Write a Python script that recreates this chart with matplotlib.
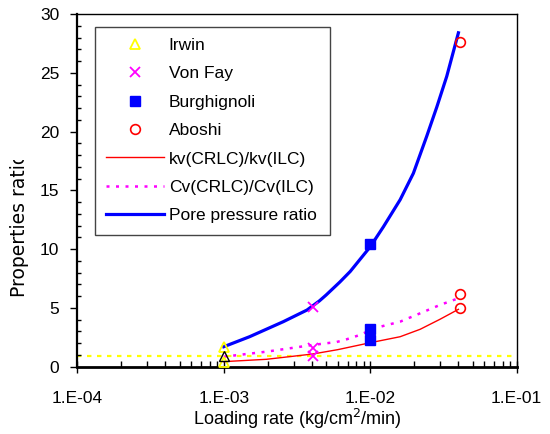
import numpy as np
import matplotlib
matplotlib.use('Agg')
import matplotlib.pyplot as plt
from matplotlib.ticker import FixedLocator, LogLocator, MultipleLocator, NullFormatter
from matplotlib.transforms import Bbox

plt.rcParams['font.family'] = ['Liberation Sans', 'DejaVu Sans']

# measured points
irwin_x = [1e-3, 1e-3]
irwin_y = [1.7, 0.43]
irwin_black_x = [1e-3]
irwin_black_y = [0.93]
vonfay_x = [4.05e-3, 4.05e-3, 4.05e-3]
vonfay_y = [5.1, 1.56, 0.93]
burg_x = [1e-2, 1e-2, 1e-2]
burg_y = [10.4, 3.2, 2.3]
aboshi_x = [4.1e-2, 4.1e-2, 4.1e-2]
aboshi_y = [27.6, 6.2, 4.97]

# fitted curves
kv_x = [1e-3, 1.96e-3, 4.05e-3, 6e-3, 1e-2, 1.6e-2, 2.19e-2, 2.99e-2, 4e-2]
kv_y = [0.43, 0.63, 1.08, 1.45, 2.04, 2.55, 3.18, 4.03, 4.88]
cv_x = [1e-3, 1.96e-3, 4.05e-3, 5.9e-3, 6.9e-3, 8.5e-3, 1e-2, 1.17e-2, 1.6e-2, 2.19e-2, 2.99e-2, 4e-2]
cv_y = [0.85, 1.28, 1.85, 2.1, 2.33, 2.7, 3.1, 3.4, 3.83, 4.54, 5.25, 5.82]
pore_x = [1e-3, 1.5e-3, 2.55e-3, 3.7e-3, 4.5e-3, 5.0e-3, 6.2e-3, 7.3e-3, 1e-2,
          1.23e-2, 1.6e-2, 1.97e-2, 2.43e-2, 2.85e-2, 3.33e-2, 4.0e-2]
pore_y = [1.7, 2.55, 3.83, 4.82, 5.6, 6.1, 7.2, 8.1, 10.2,
          11.9, 14.2, 16.45, 19.6, 22.1, 24.7, 28.4]
ref_level = 0.9

xticks = [1e-4, 1e-3, 1e-2, 1e-1]
xtick_labels = ['1.E-04', '1.E-03', '1.E-02', '1.E-01']
yticks = [0, 5, 10, 15, 20, 25, 30]

fig = plt.figure(figsize=(5.5, 4.34), dpi=100)
ax = fig.add_axes([77.3 / 550, 1 - 366.7 / 434, (516.7 - 77.3) / 550, (366.7 - 14) / 434])

ax.axhline(ref_level, color='#ffff00', lw=1.6, ls=(0, (2, 2.5)), zorder=1)
ax.plot(kv_x, kv_y, color='#ff0000', lw=1.0, label='kv(CRLC)/kv(ILC)', zorder=2)
ax.plot(cv_x, cv_y, color='#ff00ff', lw=1.8, ls=(0, (1.2, 2.6)), label='Cv(CRLC)/Cv(ILC)', zorder=2)
ax.plot(pore_x, pore_y, color='#0000ff', lw=2.3, label='Pore pressure ratio', zorder=2)

ax.plot(irwin_x, irwin_y, ls='none', marker='^', ms=7, mfc='none', mec='#ffff00', mew=1.3,
        label='Irwin', zorder=4)
ax.plot(irwin_black_x, irwin_black_y, ls='none', marker='^', ms=7, mfc='none', mec='black',
        mew=1.0, zorder=4)
ax.plot(vonfay_x, vonfay_y, ls='none', marker='x', ms=7, mec='#ff00ff', mew=1.3,
        label='Von Fay', zorder=4)
ax.plot(burg_x, burg_y, ls='none', marker='s', ms=7, mfc='#0000ff', mec='#0000ff',
        label='Burghignoli', zorder=3)
ax.plot(aboshi_x, aboshi_y, ls='none', marker='o', ms=7, mfc='none', mec='#ff0000', mew=1.2,
        label='Aboshi', zorder=4)

ax.set_xscale('log')
ax.set_xlim(1e-4, 1e-1)
ax.set_ylim(0, 30)
ax.xaxis.set_major_locator(FixedLocator(xticks))
ax.set_xticklabels(xtick_labels)
ax.xaxis.set_minor_locator(LogLocator(base=10, subs=np.arange(2, 10)))
ax.xaxis.set_minor_formatter(NullFormatter())
ax.set_yticks(yticks)
ax.yaxis.set_minor_locator(MultipleLocator(1))

ax.tick_params(axis='x', which='major', direction='inout', length=9, width=1.0,
               labelsize=12.5, pad=13)
ax.tick_params(axis='x', which='minor', direction='in', length=4, width=1.0)
ax.tick_params(axis='y', which='major', direction='out', length=5, width=1.0,
               labelsize=12.5, pad=8)
ax.tick_params(axis='y', which='minor', direction='in', length=3, width=1.0)

ax.spines['bottom'].set_linewidth(2.0)
ax.spines['left'].set_linewidth(1.6)
ax.spines['top'].set_linewidth(1.0)
ax.spines['right'].set_linewidth(1.0)

ax.set_xlabel('Loading rate (kg/cm$^2$/min)', fontsize=13, labelpad=1)

# y label, its end is cut off like in the source figure
ylab = fig.text(20 / 550, 1 - 297 / 434, 'Properties ratio', rotation=90, fontsize=13.5,
                ha='center', va='bottom', family='DejaVu Sans')
ylab.set_clip_box(Bbox([[0, 0], [77, 434 - 160]]))
ylab.set_clip_on(True)

handles, labels = ax.get_legend_handles_labels()
order = ['Irwin', 'Von Fay', 'Burghignoli', 'Aboshi',
         'kv(CRLC)/kv(ILC)', 'Cv(CRLC)/Cv(ILC)', 'Pore pressure ratio']
hmap = dict(zip(labels, handles))
leg = ax.legend([hmap[k] for k in order], order, loc='upper left', mode='expand',
                bbox_to_anchor=(95 / 550, 1 - 233.3 / 434, 235 / 550, 206.6 / 434),
                bbox_transform=fig.transFigure,
                fontsize=12.5, frameon=True, fancybox=False, framealpha=1,
                edgecolor='#444444', borderaxespad=0, borderpad=0.65,
                handlelength=3.3, handletextpad=0.3, labelspacing=0.76, numpoints=1)
leg.get_frame().set_linewidth(1.0)

fig.savefig('out.png', dpi=100)
